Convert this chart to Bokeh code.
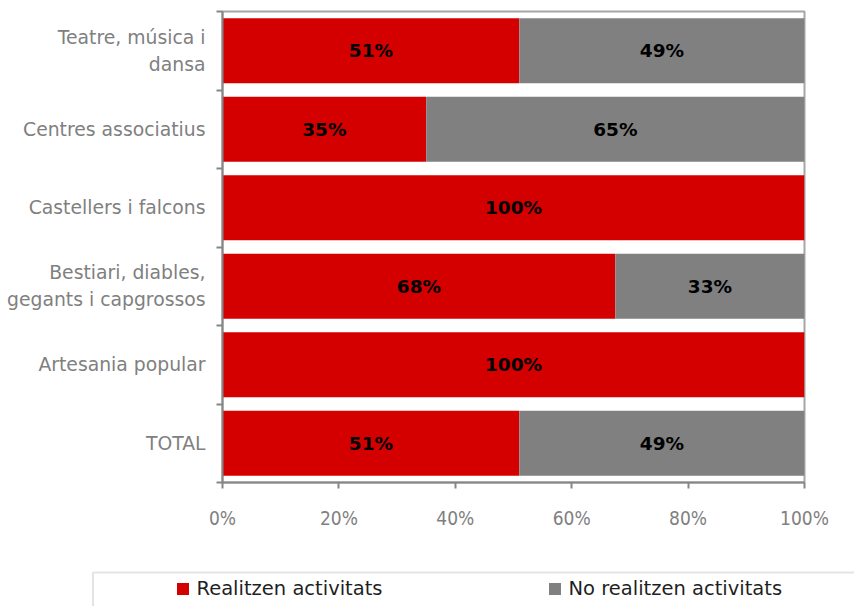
from bokeh.plotting import figure
from bokeh.layouts import column
from bokeh.models import (ColumnDataSource, Range1d, FixedTicker, PrintfTickFormatter,
                          Legend, LegendItem, BoxAnnotation)
from bokeh.core.properties import value
from bokeh.embed import file_html
from bokeh.resources import INLINE

# ---- data ----
categories = ["Teatre, música i\ndansa", "Centres associatius", "Castellers i falcons",
              "Bestiari, diables,\ngegants i capgrossos", "Artesania popular", "TOTAL"]
realitzen = [51, 35, 100, 67.5, 100, 51]
no_realitzen = [49, 65, 0, 32.5, 0, 49]
x_ticks = [0, 20, 40, 60, 80, 100]
series_names = ["Realitzen activitats", "No realitzen activitats"]

RED = "#d40000"
GREY = "#808080"
AXIS = "#868686"
FONT = "DejaVu Sans"

n = len(categories)
ypos = [n - i - 0.5 for i in range(n)]
bounds = [float(i) for i in range(n + 1)]

def pct(v):
    return "%d%%" % int(v + 0.5)

src = ColumnDataSource(dict(
    y=ypos,
    red=realitzen,
    grey_left=realitzen,
    grey_right=[a + b for a, b in zip(realitzen, no_realitzen)],
    red_mid=[a / 2 for a in realitzen],
    red_lab=[pct(a) for a in realitzen],
))
g_idx = [i for i in range(n) if no_realitzen[i] > 0]
src_g = ColumnDataSource(dict(
    y=[ypos[i] for i in g_idx],
    x=[realitzen[i] + no_realitzen[i] / 2 for i in g_idx],
    lab=[pct(no_realitzen[i]) for i in g_idx],
))

p = figure(width=854, height=560, output_backend="svg", toolbar_location=None,
           x_range=Range1d(0, 100), y_range=Range1d(0, n),
           min_border_left=222, min_border_right=50, min_border_top=11, min_border_bottom=78)
p.background_fill_color = "white"
p.border_fill_color = "white"
p.outline_line_color = "#a6a6a6"
p.outline_line_width = 2
p.xgrid.visible = False
p.ygrid.visible = False

p.hbar(y="y", left=0, right="red", height=0.83, source=src, fill_color=RED, line_color=None)
p.hbar(y="y", left="grey_left", right="grey_right", height=0.83, source=src,
       fill_color=GREY, line_color=None)

p.text(x="red_mid", y="y", text="red_lab", source=src, text_align="center",
       text_baseline="middle", text_font=value(FONT), text_font_style="bold",
       text_font_size="18.5px", text_color="black")
p.text(x="x", y="y", text="lab", source=src_g, text_align="center",
       text_baseline="middle", text_font=value(FONT), text_font_style="bold",
       text_font_size="18.5px", text_color="black")

# x axis
xa = p.xaxis[0]
xa.ticker = FixedTicker(ticks=x_ticks)
xa.formatter = PrintfTickFormatter(format="%d%%")
xa.axis_line_color = AXIS
xa.axis_line_width = 2
xa.major_tick_line_color = AXIS
xa.major_tick_line_width = 2
xa.major_tick_out = 6
xa.major_tick_in = 0
xa.minor_tick_line_color = None
xa.major_label_text_font = "DejaVu Sans Condensed"
xa.major_label_text_font_size = "19px"
xa.major_label_text_color = GREY
xa.major_label_standoff = 18

# y axis
ya = p.yaxis[0]
ya.ticker = FixedTicker(ticks=ypos, minor_ticks=bounds)
ya.major_label_overrides = {float(y): c for y, c in zip(ypos, categories)}
ya.axis_line_color = AXIS
ya.axis_line_width = 2
ya.major_tick_line_color = None
ya.major_tick_out = 0
ya.major_tick_in = 0
ya.minor_tick_line_color = AXIS
ya.minor_tick_line_width = 2
ya.minor_tick_out = 6
ya.minor_tick_in = 0
ya.major_label_text_font = FONT
ya.major_label_text_font_size = "18.8px"
ya.major_label_text_color = GREY
ya.major_label_text_line_height = 1.3
ya.major_label_standoff = 11

# ---- legend strip (separate small figure below the chart) ----
lf = figure(width=854, height=46, output_backend="svg", toolbar_location=None,
            x_range=Range1d(0, 100), y_range=Range1d(100, 101),
            x_axis_location=None, y_axis_location=None, min_border=0)
lf.min_border_left = 0
lf.min_border_right = 0
lf.min_border_top = 0
lf.min_border_bottom = 0
lf.outline_line_color = None
lf.xgrid.visible = False
lf.ygrid.visible = False
lf.background_fill_color = "white"
lf.border_fill_color = "white"
for fig in (p, lf):
    try:
        fig.frame_align = False
    except Exception:
        pass

# legend proxies: same data, drawn outside the strip's visible range
r_red = lf.hbar(y="y", left=0, right="red", height=0.83, source=src,
                fill_color=RED, line_color=None)
r_grey = lf.hbar(y="y", left="grey_left", right="grey_right", height=0.83, source=src,
                 fill_color=GREY, line_color=None)

box = BoxAnnotation(left=92.5, right=5000, top=34, bottom=-200,
                    left_units="screen", right_units="screen",
                    top_units="screen", bottom_units="screen",
                    fill_alpha=0, line_color="#a6a6a6", line_width=2)
lf.add_layout(box)

lg = Legend(items=[LegendItem(label=series_names[0], renderers=[r_red]),
                   LegendItem(label=series_names[1], renderers=[r_grey])],
            orientation="horizontal", location=(174.5, 6.5))
lg.glyph_width = 15
lg.glyph_height = 15
lg.label_standoff = 7
lg.label_width = 340
lg.label_height = 20
lg.spacing = 10
lg.padding = 0
lg.margin = 0
lg.label_text_font = FONT
lg.label_text_font_size = "19.5px"
lg.label_text_color = "#1f1f1f"
lg.border_line_color = None
lg.background_fill_alpha = 0
lf.add_layout(lg, "center")

layout = column(p, lf, spacing=0)
open("out.html", "w").write(file_html(layout, INLINE))
